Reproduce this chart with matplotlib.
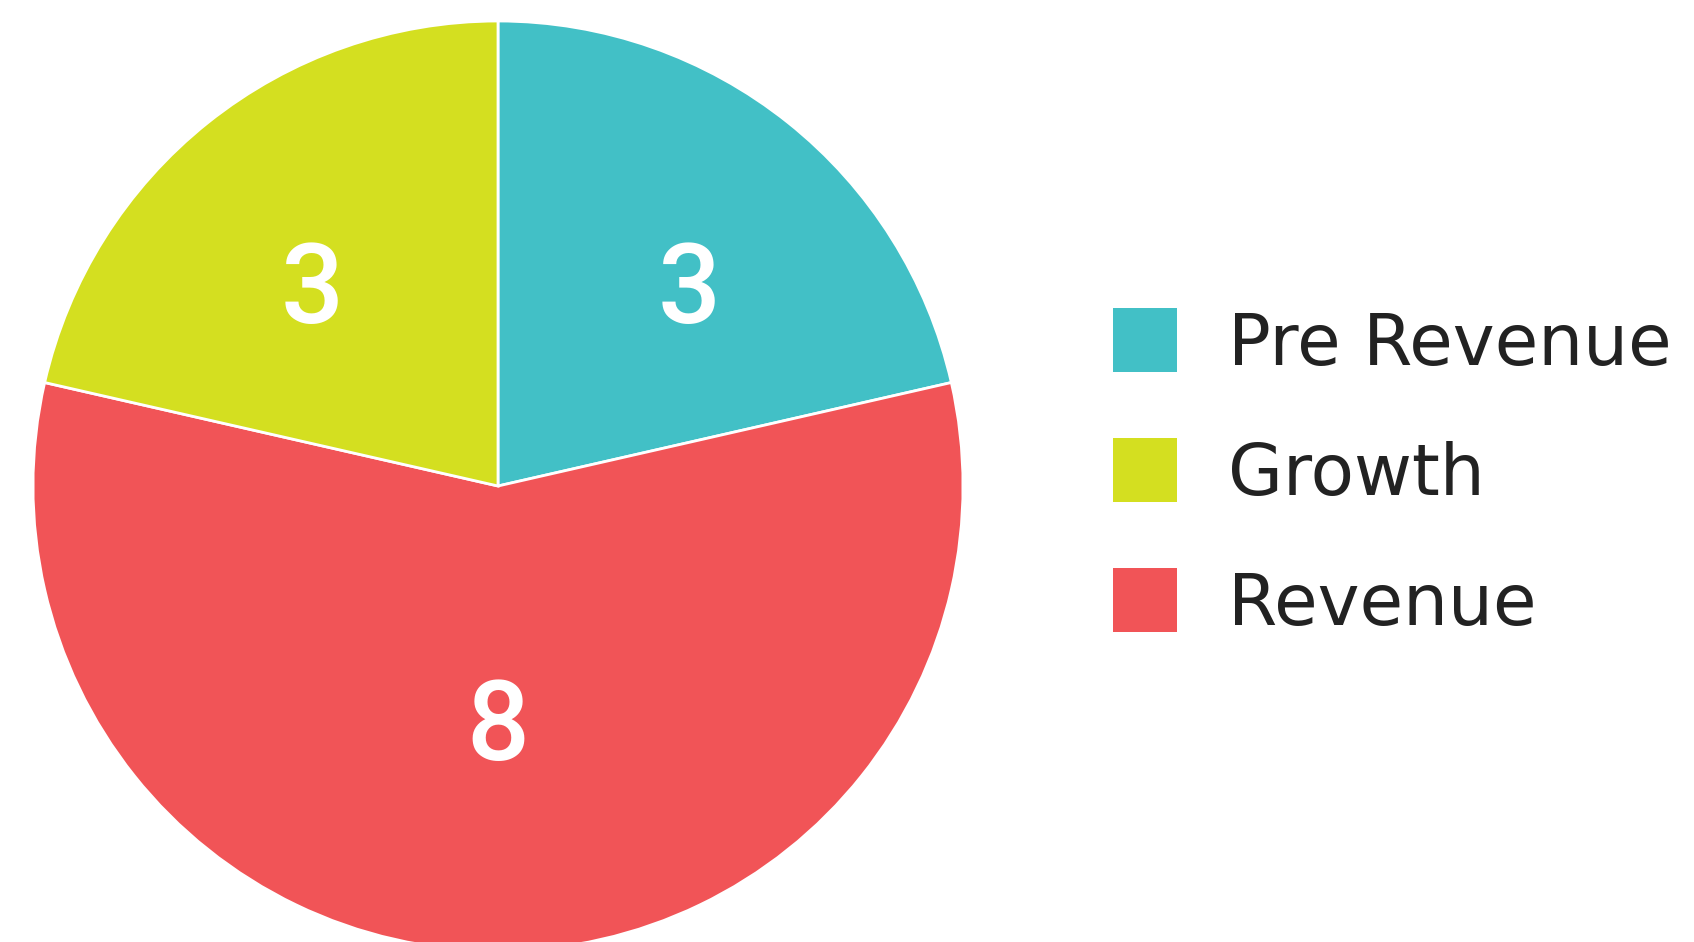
import numpy as np
import matplotlib.pyplot as plt
from matplotlib.patches import Patch

# stages, in legend order
categories = ["Pre Revenue", "Growth", "Revenue"]
counts = [3, 3, 8]
colors = ["#42C0C6", "#D4DF20", "#F15457"]

# wedges go clockwise from the top in this order
draw_order = [0, 2, 1]
label_dist = [0.61, 0.61, 0.5]
label_nudge = [(10, -20), (-6.5, -20), (0, -8)]  # points

W, H = 1694, 942
fig = plt.figure(figsize=(W / 100, H / 100), dpi=100)

cx, cy, r = 498, 486, 465
ax = fig.add_axes([(cx - r) / W, (H - cy - r) / H, 2 * r / W, 2 * r / H])

vals = [counts[i] for i in draw_order]
cols = [colors[i] for i in draw_order]
wedges, _ = ax.pie(vals, colors=cols, startangle=90, counterclock=False,
                   radius=1, wedgeprops=dict(edgecolor="white", linewidth=2))
ax.set_xlim(-1, 1)
ax.set_ylim(-1, 1)
ax.set_aspect("equal")
ax.axis("off")

for w, i in zip(wedges, draw_order):
    ang = np.deg2rad((w.theta1 + w.theta2) / 2)
    d = label_dist[i]
    ax.annotate(str(counts[i]), xy=(d * np.cos(ang), d * np.sin(ang)),
                xytext=label_nudge[i], textcoords="offset points",
                ha="center", va="center", color="white",
                fontsize=80, fontweight=500, family=["Roboto", "DejaVu Sans"])

handles = [Patch(facecolor=c, edgecolor="none") for c in colors]
fig.legend(handles, categories, loc="center left",
           bbox_to_anchor=(1113 / W, (H - 474) / H),
           frameon=False, borderpad=0, borderaxespad=0,
           prop=dict(family="DejaVu Sans", size=51),
           handlelength=0.9, handleheight=1.01, handletextpad=0.73,
           labelspacing=0.83, labelcolor="#222222")

fig.savefig("out.png", dpi=100)
